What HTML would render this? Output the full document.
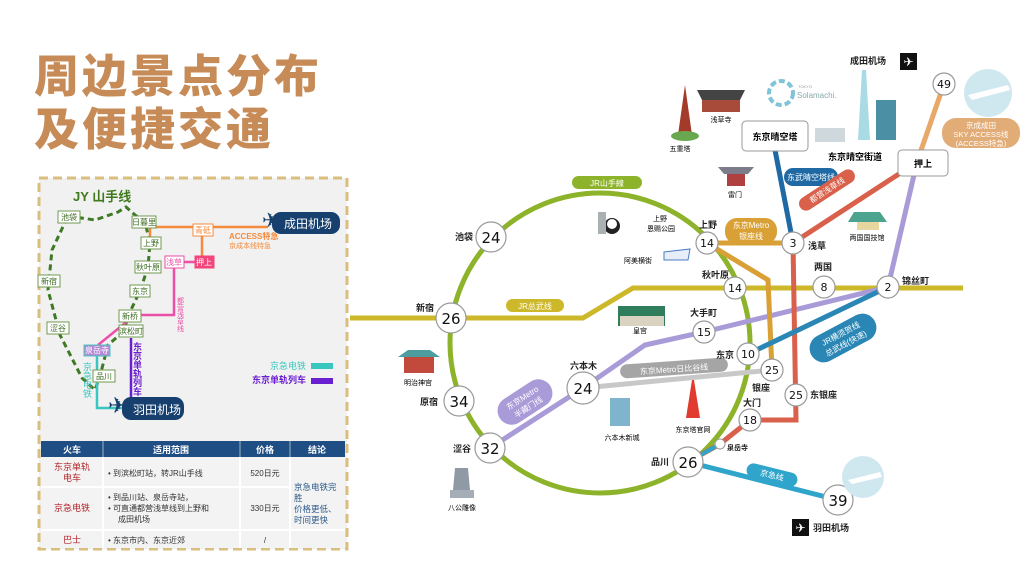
<!DOCTYPE html>
<html><head><meta charset="utf-8"><style>
html,body{margin:0;padding:0;background:#fff;width:1035px;height:577px;overflow:hidden}
svg{display:block;font-family:"Liberation Sans","Noto Sans CJK SC",sans-serif}
</style></head><body>
<svg width="1035" height="577" viewBox="0 0 1035 577" xmlns="http://www.w3.org/2000/svg">
<!-- Title -->
<text x="34" y="92" font-size="45" font-weight="900" fill="#c68b57" letter-spacing="3" font-family="Noto Sans CJK SC,sans-serif">周边景点分布</text>
<text x="34" y="145" font-size="45" font-weight="900" fill="#c68b57" letter-spacing="3" font-family="Noto Sans CJK SC,sans-serif">及便捷交通</text>

<!-- Left panel -->
<rect x="39" y="178" width="308" height="371" fill="#f1f1f1" stroke="#d9be7e" stroke-width="3" stroke-dasharray="9,5"/>
<text x="73" y="201" font-size="13" font-weight="bold" fill="#3f7a1c">JY 山手线</text>
<path d="M68,216 L95,220 L118,212 L126,207 L135,215 L145,222 L150,243 L148,267 L140,291 L128,316 L124,331 L108,345 L100,376 L95,390 L82,378 L60,335 L48,290 L52,250 L68,216" fill="none" stroke="#3e7a24" stroke-width="3" stroke-dasharray="6,4"/>
<polyline points="150,243 150,227 268,227" fill="none" stroke="#f58a3c" stroke-width="2.5"/>
<line x1="202" y1="229" x2="202" y2="262" stroke="#f58a3c" stroke-width="2.5"/>
<polyline points="174,262 200,262" fill="none" stroke="#ec4fa7" stroke-width="2.5"/>
<polyline points="174,262 174,315 135,315 98,345" fill="none" stroke="#ec4fa7" stroke-width="2.5"/>
<polyline points="97,350 97,408 122,408" fill="none" stroke="#3ac7c0" stroke-width="2.5"/>
<line x1="131" y1="338" x2="131" y2="397" stroke="#6a1fd1" stroke-width="2.5"/>
<g font-size="8" fill="#3b6b22" text-anchor="middle">
<rect x="58" y="211" width="22" height="12" fill="#fff" stroke="#6f9a4f"/><text x="69" y="220">池袋</text>
<rect x="132" y="216" width="24" height="12" fill="#fff" stroke="#6f9a4f"/><text x="144" y="225">日暮里</text>
<rect x="141" y="237" width="20" height="12" fill="#fff" stroke="#6f9a4f"/><text x="151" y="246">上野</text>
<rect x="135" y="261" width="26" height="12" fill="#fff" stroke="#6f9a4f"/><text x="148" y="270">秋叶原</text>
<rect x="130" y="285" width="20" height="12" fill="#fff" stroke="#6f9a4f"/><text x="140" y="294">东京</text>
<rect x="119" y="310" width="22" height="12" fill="#fff" stroke="#6f9a4f"/><text x="130" y="319">新桥</text>
<rect x="119" y="325" width="24" height="12" fill="#fff" stroke="#6f9a4f"/><text x="131" y="334">滨松町</text>
<rect x="38" y="275" width="22" height="12" fill="#fff" stroke="#6f9a4f"/><text x="49" y="284">新宿</text>
<rect x="47" y="322" width="22" height="12" fill="#fff" stroke="#6f9a4f"/><text x="58" y="331">涩谷</text>
<rect x="93" y="370" width="22" height="12" fill="#fff" stroke="#6f9a4f"/><text x="104" y="379">品川</text>
<rect x="84" y="345" width="26" height="11" fill="#b48ad6" stroke="#47c6bf"/><text x="97" y="353" fill="#fff">泉岳寺</text>
<rect x="193" y="224" width="20" height="12" fill="#fff" stroke="#f58a3c"/><text x="203" y="233" fill="#f58a3c">青砥</text>
<rect x="165" y="256" width="19" height="12" fill="#fff" stroke="#ec4fa7"/><text x="174" y="265" fill="#ec4fa7">浅草</text>
<rect x="195" y="256" width="19" height="12" fill="#f2457a" stroke="#f2457a"/><text x="204" y="265" fill="#fff">押上</text>
</g>
<text x="180" y="297" font-size="7" fill="#ec4fa7" writing-mode="tb">都营浅草线</text>
<text x="137" y="342" font-size="9" font-weight="bold" fill="#6a1fd1" writing-mode="tb">东京单轨列车</text>
<text x="87" y="362" font-size="9" fill="#3ac7c0" writing-mode="tb">京急电铁</text>
<text x="229" y="239" font-size="8" font-weight="bold" fill="#f58a3c">ACCESS特急</text>
<text x="229" y="248" font-size="7" fill="#f58a3c">京成本线特急</text>
<rect x="272" y="212" width="68" height="22" rx="9" fill="#17406e"/><text x="284" y="228" font-size="12" fill="#fff">成田机场</text>
<text x="262" y="227" font-size="20" fill="#17406e">✈</text>
<rect x="122" y="397" width="62" height="23" rx="9" fill="#17406e"/><text x="133" y="414" font-size="12" fill="#fff">羽田机场</text>
<text x="108" y="413" font-size="22" fill="#17406e">✈</text>
<text x="270" y="369" font-size="9" fill="#3ac7c0">京急电铁</text><rect x="311" y="363" width="22" height="6" fill="#3ac7c0"/>
<text x="252" y="383" font-size="9" font-weight="bold" fill="#6a1fd1">东京单轨列车</text><rect x="311" y="378" width="22" height="6" fill="#6a1fd1"/>

<!-- Table -->
<rect x="41" y="441" width="304" height="16" fill="#1f4e85"/>
<g fill="#fff" font-size="9" font-weight="bold" text-anchor="middle"><text x="72" y="453">火车</text><text x="171" y="453">适用范围</text><text x="265" y="453">价格</text><text x="317" y="453">结论</text></g>
<line x1="103" y1="441" x2="103" y2="457" stroke="#9bb" /><line x1="240" y1="441" x2="240" y2="457" stroke="#9bb"/><line x1="290" y1="441" x2="290" y2="457" stroke="#9bb"/>
<rect x="41" y="457" width="304" height="91" fill="#f3f3f3"/>
<line x1="41" y1="487" x2="290" y2="487" stroke="#fff" stroke-width="2"/><line x1="41" y1="530" x2="345" y2="530" stroke="#fff" stroke-width="2"/>
<line x1="103" y1="457" x2="103" y2="548" stroke="#fff" stroke-width="2"/><line x1="240" y1="457" x2="240" y2="548" stroke="#fff" stroke-width="2"/><line x1="290" y1="457" x2="290" y2="548" stroke="#fff" stroke-width="2"/>
<g fill="#b2252a" font-size="9" text-anchor="middle"><text x="72" y="470">东京单轨</text><text x="72" y="481">电车</text><text x="72" y="511">京急电铁</text><text x="72" y="543">巴士</text></g>
<g fill="#333" font-size="8"><text x="108" y="476">•  到滨松町站，转JR山手线</text><text x="108" y="500">•  到品川站、泉岳寺站，</text><text x="108" y="511">•  可直通都营浅草线到上野和</text><text x="118" y="522">成田机场</text><text x="108" y="543">•  东京市内、东京近郊</text>
<text x="265" y="476" text-anchor="middle">520日元</text><text x="265" y="511" text-anchor="middle">330日元</text><text x="265" y="543" text-anchor="middle">/</text></g>
<g fill="#2d5a8a" font-size="8.5"><text x="294" y="490">京急电铁完</text><text x="294" y="501">胜</text><text x="294" y="512">价格更低、</text><text x="294" y="523">时间更快</text></g>

<!-- Right map lines -->
<polyline points="350,318 583,318 633,288 963,288" fill="none" stroke="#cdb82a" stroke-width="5"/>
<circle cx="600" cy="343" r="150" fill="none" stroke="#8db32a" stroke-width="5"/>
<polyline points="490,448 583,388 645,345 704,332 888,287 917,162" fill="none" stroke="#a99ad8" stroke-width="5"/>
<line x1="583" y1="388" x2="772" y2="370" stroke="#c8c8c8" stroke-width="5"/>
<polyline points="707,243 793,243" fill="none" stroke="#d9a035" stroke-width="5"/>
<polyline points="707,243 768,280 772,370" fill="none" stroke="#d9a035" stroke-width="5"/>
<polyline points="905,170 793,243 796,420 750,420 720,444 688,462" fill="none" stroke="#d9604a" stroke-width="5"/>
<line x1="775" y1="150" x2="793" y2="243" stroke="#1f6aa5" stroke-width="5"/>
<line x1="748" y1="354" x2="888" y2="287" stroke="#2a87b5" stroke-width="5"/>
<polyline points="688,462 838,500" fill="none" stroke="#30a5cc" stroke-width="5"/>
<line x1="688" y1="462" x2="720" y2="444" stroke="#30a5cc" stroke-width="4"/>
<line x1="917" y1="162" x2="944" y2="84" stroke="#e8a868" stroke-width="5"/>
<circle cx="720" cy="444" r="5" fill="#fff" stroke="#999"/>

<rect x="572" y="176" width="70" height="13" rx="6.5" fill="#8db32a"/><text x="607" y="186" font-size="8" fill="#fff" text-anchor="middle">JR山手線</text>
<rect x="506" y="299" width="58" height="13" rx="6.5" fill="#cdb82a"/><text x="535" y="309" font-size="8" fill="#fff" text-anchor="middle">JR总武线</text>
<rect x="725" y="218" width="52" height="26" rx="12" fill="#d9a035"/><text x="751" y="228" font-size="8" fill="#fff" text-anchor="middle">东京Metro</text><text x="751" y="239" font-size="8" fill="#fff" text-anchor="middle">银座线</text>
<rect x="784" y="168" width="54" height="18" rx="9" fill="#1f6aa5"/><text x="811" y="180" font-size="8" fill="#fff" text-anchor="middle">东武晴空塔线</text>
<g transform="translate(827,190) rotate(-33)"><rect x="-32" y="-7" width="64" height="14" rx="7" fill="#d9604a"/><text x="0" y="3" font-size="8" fill="#fff" text-anchor="middle">都营浅草线</text></g>
<rect x="942" y="118" width="78" height="30" rx="14" fill="#e2ac77"/><g font-size="7.5" fill="#fff" text-anchor="middle"><text x="981" y="128">京成成田</text><text x="981" y="137">SKY ACCESS线</text><text x="981" y="146">(ACCESS特急)</text></g>
<g transform="translate(843,338) rotate(-28)"><rect x="-36" y="-14" width="72" height="28" rx="14" fill="#2a87b5"/><text x="0" y="-2" font-size="8" fill="#fff" text-anchor="middle">JR横须贺线</text><text x="0" y="9" font-size="8" fill="#fff" text-anchor="middle">总武线(快速)</text></g>
<rect x="620" y="361" width="108" height="14" rx="7" fill="#a5a5a5" transform="rotate(-4 674 368)"/><text x="674" y="372" font-size="8" fill="#fff" text-anchor="middle" transform="rotate(-4 674 368)">东京Metro日比谷线</text>
<g transform="translate(525,402) rotate(-33)"><rect x="-30" y="-14" width="60" height="28" rx="14" fill="#a99ad8"/><text x="0" y="-2" font-size="8" fill="#fff" text-anchor="middle">东京Metro</text><text x="0" y="9" font-size="8" fill="#fff" text-anchor="middle">半藏门线</text></g>
<g transform="translate(772,475) rotate(14)"><rect x="-26" y="-7" width="52" height="14" rx="7" fill="#30a5cc"/><text x="0" y="3" font-size="8" fill="#fff" text-anchor="middle">京急线</text></g>

<g font-family="DejaVu Sans,sans-serif" text-anchor="middle" fill="#111">
<g stroke="#999" stroke-width="1.2" fill="#fff">
<circle cx="491" cy="237" r="15"/><circle cx="451" cy="318" r="15"/><circle cx="459" cy="401" r="15"/><circle cx="490" cy="448" r="15"/>
<circle cx="583" cy="388" r="16"/><circle cx="688" cy="462" r="15"/><circle cx="750" cy="420" r="11"/><circle cx="748" cy="354" r="11"/>
<circle cx="735" cy="288" r="11"/><circle cx="707" cy="243" r="11"/><circle cx="704" cy="332" r="11"/><circle cx="793" cy="243" r="11"/>
<circle cx="824" cy="287" r="11"/><circle cx="888" cy="287" r="11"/><circle cx="772" cy="370" r="11"/><circle cx="796" cy="395" r="11"/>
<circle cx="944" cy="84" r="11"/><circle cx="838" cy="500" r="15"/>
</g>
<g font-size="15"><text x="491" y="243">24</text><text x="451" y="324">26</text><text x="459" y="407">34</text><text x="490" y="454">32</text><text x="583" y="394">24</text><text x="688" y="468">26</text><text x="838" y="506">39</text></g>
<g font-size="11"><text x="750" y="424">18</text><text x="748" y="358">10</text><text x="735" y="292">14</text><text x="707" y="247">14</text><text x="704" y="336">15</text><text x="793" y="247">3</text><text x="824" y="291">8</text><text x="888" y="291">2</text><text x="772" y="374">25</text><text x="796" y="399">25</text><text x="944" y="88">49</text></g>
</g>
<g font-size="9" font-weight="bold" fill="#222">
<text x="455" y="240">池袋</text><text x="416" y="311">新宿</text><text x="420" y="405">原宿</text><text x="453" y="452">涩谷</text>
<text x="570" y="369">六本木</text><text x="651" y="465">品川</text><text x="743" y="406">大门</text><text x="716" y="358">东京</text>
<text x="702" y="278">秋叶原</text><text x="699" y="228">上野</text><text x="808" y="249">浅草</text><text x="814" y="270">两国</text><text x="902" y="284">锦丝町</text>
<text x="752" y="391">银座</text><text x="810" y="398">东银座</text><text x="690" y="316">大手町</text><text x="727" y="450" font-size="7">泉岳寺</text>
<text x="850" y="64">成田机场</text><text x="813" y="531">羽田机场</text>
</g>
<rect x="900" y="53" width="17" height="17" fill="#111"/><text x="908.5" y="66" font-size="12" fill="#fff" text-anchor="middle">✈</text>
<rect x="792" y="519" width="17" height="17" fill="#111"/><text x="800.5" y="532" font-size="12" fill="#fff" text-anchor="middle">✈</text>
<rect x="742" y="121" width="66" height="30" rx="4" fill="#fff" stroke="#999"/><text x="775" y="140" font-size="9" font-weight="bold" text-anchor="middle">东京晴空塔</text>
<rect x="898" y="150" width="50" height="26" rx="4" fill="#fff" stroke="#999"/><text x="923" y="167" font-size="9" font-weight="bold" text-anchor="middle">押上</text>
<text x="855" y="160" font-size="9" font-weight="bold" text-anchor="middle">东京晴空街道</text>
<circle cx="781" cy="93" r="12" fill="none" stroke="#7fc4d8" stroke-width="4" stroke-dasharray="6,3"/>
<text x="798" y="88" font-size="4" fill="#999">TOKYO</text><text x="797" y="98" font-size="8" fill="#8aa">Solamachi.</text>
<path d="M862,70 L858,140 L870,140 L866,70Z" fill="#a9dbe4"/><rect x="876" y="100" width="20" height="40" fill="#4a8fa3"/>
<rect x="815" y="128" width="30" height="14" fill="#cfd8dc"/>
<path d="M685,85 L678,135 L692,135Z" fill="#a33a2a"/><ellipse cx="685" cy="136" rx="14" ry="5" fill="#6aa84f"/>
<path d="M697,90 L745,90 L740,100 L702,100Z" fill="#444"/><rect x="702" y="100" width="38" height="12" fill="#a84b3a"/>
<text x="721" y="122" font-size="7" text-anchor="middle">浅草寺</text><text x="680" y="151" font-size="7" text-anchor="middle">五重塔</text>
<path d="M718,167 L754,167 L748,174 L724,174Z" fill="#7c7c8a"/><rect x="727" y="174" width="18" height="12" fill="#b04040"/><text x="735" y="197" font-size="7" text-anchor="middle">雷门</text>
<path d="M854,212 L880,212 L887,222 L848,222Z" fill="#4ca38f"/><rect x="857" y="222" width="22" height="8" fill="#e8d6a0"/><text x="867" y="240" font-size="7" text-anchor="middle">两国国技馆</text>
<circle cx="612" cy="226" r="8" fill="#222"/><circle cx="612" cy="224" r="5" fill="#fff"/><rect x="598" y="212" width="8" height="22" fill="#a9b1b3"/>
<text x="653" y="221" font-size="7">上野</text><text x="647" y="231" font-size="7">恩赐公园</text><text x="624" y="263" font-size="7">阿美横街</text>
<path d="M664,252 L690,249 L688,260 L664,260Z" fill="#e8eef8" stroke="#4b7bc9"/>
<path d="M618,306 L665,306 L665,326 L618,326Z" fill="#2f7d5a"/><rect x="620" y="316" width="44" height="10" fill="#dad3c1"/><text x="640" y="333" font-size="7" text-anchor="middle">皇宫</text>
<rect x="404" y="357" width="30" height="16" fill="#c14a3c"/><path d="M398,357 L440,357 L430,350 L408,350Z" fill="#4c9da0"/><text x="418" y="385" font-size="7" text-anchor="middle">明治神宫</text>
<rect x="610" y="398" width="20" height="28" fill="#7eb4cc"/><text x="622" y="440" font-size="7" text-anchor="middle">六本木新城</text>
<path d="M686,418 L692,380 L694,380 L700,418Z" fill="#e03b2e"/><text x="693" y="432" font-size="7" text-anchor="middle">东京塔官网</text>
<path d="M455,468 L468,468 L470,490 L453,490Z" fill="#8f9aa5"/><rect x="450" y="490" width="24" height="8" fill="#a5aeb6"/><text x="462" y="510" font-size="7" text-anchor="middle">八公雕像</text>
<circle cx="988" cy="93" r="24" fill="#cfe8f0"/><path d="M968,95 L1008,85 L1010,90 L972,100Z" fill="#fff"/>
<circle cx="863" cy="477" r="21" fill="#cfe8f0"/><path d="M848,480 L880,472 L882,477 L852,484Z" fill="#fff"/>
</svg>
</body></html>
